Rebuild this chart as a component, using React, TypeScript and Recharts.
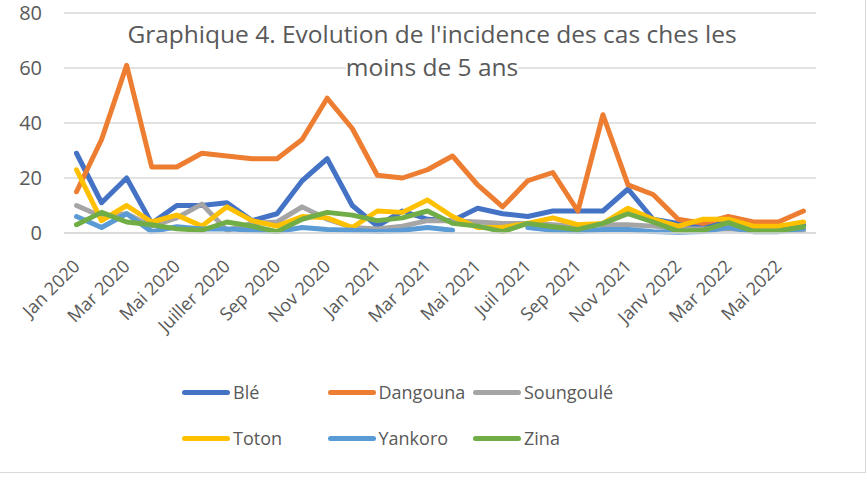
import React from "react";
import { LineChart, Line, XAxis, YAxis, CartesianGrid, Legend } from "recharts";

const months = [
  "Jan 2020", "Fév 2020", "Mar 2020", "Avr 2020", "Mai 2020", "Juin 2020",
  "Juiller 2020", "Août 2020", "Sep 2020", "Oct 2020", "Nov 2020", "Déc 2020",
  "Jan 2021", "Fév 2021", "Mar 2021", "Avr 2021", "Mai 2021", "Juin 2021",
  "Juil 2021", "Août 2021", "Sep 2021", "Oct 2021", "Nov 2021", "Déc 2021",
  "Janv 2022", "Fév 2022", "Mar 2022", "Avr 2022", "Mai 2022", "Juin 2022",
];

const ble = [29, 11, 20, 3.5, 10, 10, 11, 4.5, 7, 19, 27, 10, 2.5, 8, 5, 4.5, 9, 7, 6, 8, 8, 8, 16, 5, 3.5, 2, 4, 2.5, 2.5, 3];
const dangouna = [15, 34, 61, 24, 24, 29, 28, 27, 27, 34, 49, 38, 21, 20, 23, 28, 17.5, 9.5, 19, 22, 8, 43, 17.5, 14, 5, 3.5, 6, 4, 4, 8];
const soungoule = [10, 6, 7, 2.5, 5.5, 10.5, 1, 3.5, 4, 9.5, 5, 2, 1.5, 2.5, 4.5, 4.5, 4, 3.5, 3.5, 3, 2.5, 3, 3, 2.5, 1.5, 1.5, 1.5, 1, 1, 1];
const toton = [23, 4.5, 10, 4, 6.5, 2.5, 9.5, 4.5, 2.5, 6, 5.5, 2, 8, 7.5, 12, 6, 2, 2, 3.5, 5.5, 3, 3.5, 9, 5, 2.5, 5, 5, 2.5, 2.5, 4];
const yankoro: (number | null)[] = [6, 2, 7, 0.5, 2.3, 1.5, 1.5, 1, 0.5, 2, 1.3, 1, 0.5, 1, 2, 1, null, null, 2, 1, 0.5, 1.3, 1.3, 0.5, 0.3, 0.5, 2, 0.5, 0.5, 1.5];
const zina = [3, 7.5, 4, 3, 1.5, 1, 4, 2.5, 0.5, 5, 7.5, 6.5, 4.5, 5.5, 8, 3.5, 2.5, 0.5, 3.5, 2.3, 1.3, 3.5, 7, 4, 0.7, 1, 3.8, 0.7, 0.7, 2.3];

const yTicks = [0, 20, 40, 60, 80];

const series = [
  { key: "Blé", values: ble, color: "#4472C4" },
  { key: "Dangouna", values: dangouna, color: "#ED7D31" },
  { key: "Soungoulé", values: soungoule, color: "#A5A5A5" },
  { key: "Toton", values: toton, color: "#FFC000" },
  { key: "Yankoro", values: yankoro, color: "#5B9BD5" },
  { key: "Zina", values: zina, color: "#70AD47" },
];

const data = months.map((m, i) => {
  const row: Record<string, any> = { month: m };
  series.forEach((s) => {
    row[s.key] = s.values[i];
  });
  return row;
});

const FONT = "'Open Sans', sans-serif";
const TEXT = "#595959";

const XTick = (props: any) => {
  const { x, y, payload } = props;
  return (
    <g transform={`translate(${x},${y + 28}) rotate(-45)`}>
      <text x={0} y={0} dy="0.35em" textAnchor="end" fill={TEXT} fontSize={18} fontFamily={FONT}>
        {payload.value}
      </text>
    </g>
  );
};

const LegendContent = (props: any) => {
  const payload = props.payload || [];
  return (
    <div style={{ position: "relative", width: 867, height: 90 }}>
      {payload.map((p: any, i: number) => {
        const col = i % 3;
        const row = Math.floor(i / 3);
        const left = 182 + col * 145.5;
        const top = 22 + row * 46;
        return (
          <div key={i} style={{ position: "absolute", left, top: top - 12, height: 24, display: "flex", alignItems: "center" }}>
            <div style={{ width: 48, height: 5, borderRadius: 2.5, background: p.color }} />
            <span style={{ marginLeft: 3, fontSize: 18, fontFamily: FONT, color: TEXT, lineHeight: "24px" }}>{p.value}</span>
          </div>
        );
      })}
    </div>
  );
};

export default function App() {
  return (
    <div style={{ position: "absolute", left: 0, top: 0, width: 867, height: 484, background: "#fff", overflow: "hidden" }}>
      <div
        style={{
          position: "absolute", left: -2, top: -2, width: 868, height: 475,
          border: "1px solid #d9d9d9", boxSizing: "border-box",
        }}
      />
      <div style={{ position: "absolute", left: 0, top: 0 }}>
        <LineChart width={867} height={484} data={data} margin={{ top: 13, right: 51, left: 0, bottom: 24 }}>
          <CartesianGrid vertical={false} stroke="#d9d9d9" strokeWidth={1.3} />
          <XAxis
            dataKey="month"
            interval={1}
            tick={<XTick />}
            tickLine={false}
            tickSize={0}
            height={137}
            padding={{ left: 12.5, right: 12.5 }}
            axisLine={{ stroke: "#d9d9d9", strokeWidth: 1.3 }}
          />
          <YAxis
            domain={[0, 80]}
            ticks={yTicks}
            width={64}
            axisLine={false}
            tickLine={false}
            tickSize={0}
            tickMargin={22}
            tick={{ fill: TEXT, fontSize: 20, fontFamily: FONT }}
          />
          <Legend
            verticalAlign="bottom"
            content={<LegendContent />}
            wrapperStyle={{ top: 370, left: 0, width: 867, height: 90 }}
          />
          {series.map((s) => (
            <Line
              key={s.key}
              dataKey={s.key}
              name={s.key}
              type="linear"
              stroke={s.color}
              strokeWidth={5}
              dot={false}
              activeDot={false}
              strokeLinecap="round"
              strokeLinejoin="round"
              isAnimationActive={false}
            />
          ))}
        </LineChart>
      </div>
      <div
        style={{
          position: "absolute", left: 0, top: 17, width: 864, textAlign: "center",
          fontFamily: FONT, fontSize: 24.5, color: TEXT, lineHeight: "33px", pointerEvents: "none",
        }}
      >
        <div><span style={{ background: "#fff" }}>Graphique 4. Evolution de l'incidence des cas ches les</span></div>
        <div><span style={{ background: "#fff" }}>moins de 5 ans</span></div>
      </div>
    </div>
  );
}
